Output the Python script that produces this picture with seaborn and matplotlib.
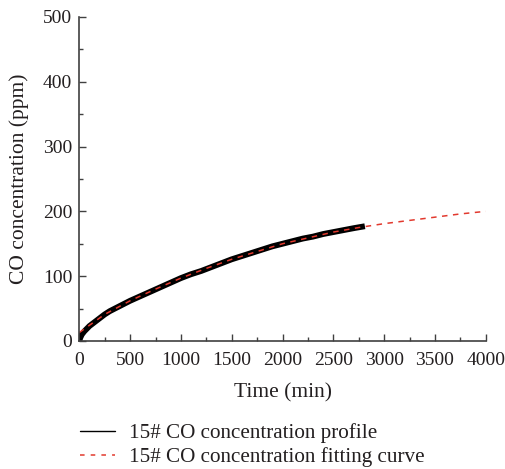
import numpy as np
import pandas as pd
import matplotlib
matplotlib.use("Agg")
import matplotlib.pyplot as plt
from matplotlib.lines import Line2D
from matplotlib.ticker import MultipleLocator
import seaborn as sns

# --- DATA ---
profile_time = [0, 10, 25, 50, 75, 100, 150, 200, 250, 300, 400, 500, 600, 700, 800, 900,
                1000, 1100, 1200, 1300, 1400, 1500, 1600, 1700, 1800, 1900, 2000, 2100,
                2200, 2300, 2400, 2500, 2600, 2700, 2810]
profile_co = [0, 5, 10, 15, 19, 23, 29, 35, 41, 46, 54, 62, 69, 76, 83, 90,
              97, 103, 108, 114, 120, 126, 131, 136, 141, 146, 150, 154,
              158, 161, 165, 168, 171, 174, 177]

fit_time = [0, 125, 250, 500, 750, 1000, 1250, 1500, 1750, 2000, 2250, 2500, 2750,
            3000, 3250, 3500, 3750, 4000]
fit_co = [13, 27, 41, 62, 80, 97, 112, 126, 138, 150, 159, 168, 175,
          181, 186, 191, 196, 200]

LABEL_PROFILE = "15# CO concentration profile"
LABEL_FIT = "15# CO concentration fitting curve"

TEXT = "#231f20"
AXIS = "#404040"
RED = "#e2392e"

sns.set_theme(style="ticks")
plt.rcParams['font.family'] = ['Liberation Serif', 'DejaVu Serif']

df_profile = pd.DataFrame({"time": profile_time, "co": profile_co})
df_fit = pd.DataFrame({"time": fit_time, "co": fit_co})

fig = plt.figure(figsize=(5.05, 4.69), dpi=100)
ax = fig.add_axes([0.157, 0.273, 0.805, 0.691])

sns.lineplot(data=df_profile, x="time", y="co", ax=ax, color="black", linewidth=4.2,
             solid_capstyle="butt", legend=False)
sns.lineplot(data=df_fit, x="time", y="co", ax=ax, color=RED, linewidth=1.1,
             dashes=False, legend=False)
ax.lines[-1].set_linestyle((0, (3.6, 3.6)))

ax.set_xlim(0, 4000)
ax.set_ylim(0, 500)
ax.xaxis.set_major_locator(MultipleLocator(500))
ax.xaxis.set_minor_locator(MultipleLocator(250))
ax.yaxis.set_major_locator(MultipleLocator(100))
ax.yaxis.set_minor_locator(MultipleLocator(50))

ax.tick_params(which="both", direction="in", colors=AXIS, labelcolor=TEXT, labelsize=14)
ax.tick_params(which="major", length=5, width=1)
ax.tick_params(which="minor", length=3, width=1)
ax.tick_params(axis="x", pad=8)
ax.tick_params(axis="y", pad=5)

sns.despine(ax=ax)
for s in ["left", "bottom"]:
    ax.spines[s].set_color(AXIS)
    ax.spines[s].set_linewidth(1.2)

ax.set_xlabel("Time (min)", fontsize=15.5, color=TEXT, labelpad=10)
ax.set_ylabel("CO concentration (ppm)", fontsize=15.5, color=TEXT, labelpad=10)

handles = [Line2D([], [], color="black", linewidth=1.0),
           Line2D([], [], color=RED, linewidth=1.1, linestyle=(0, (3, 4)))]
fig.legend(handles, [LABEL_PROFILE, LABEL_FIT], loc="upper left",
           bbox_to_anchor=(0.158, 0.098), frameon=False, fontsize=15.2,
           handlelength=1.66, handletextpad=0.66, labelspacing=0.2,
           borderaxespad=0, borderpad=0, labelcolor=TEXT)

fig.savefig("out.png", dpi=100)
